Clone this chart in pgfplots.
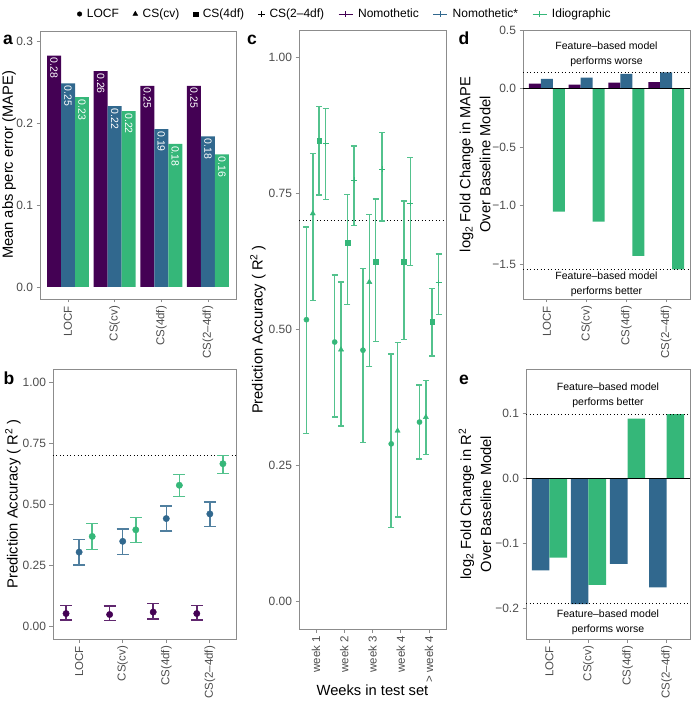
\documentclass[border=0pt]{standalone}
\usepackage{fontspec}
\setmainfont{Liberation Sans}
\usepackage{pgfplots}
\pgfplotsset{compat=1.18}

\definecolor{vpurple}{HTML}{440154}
\definecolor{vblue}{HTML}{31688E}
\definecolor{vgreen}{HTML}{35B779}
\definecolor{frame}{HTML}{8C8C8C}
\definecolor{ticktxt}{HTML}{4D4D4D}

\pgfplotsset{
  panel/.style={
    scale only axis, anchor=south west,
    axis line style={frame, line width=0.9pt},
    tick style={frame, line width=0.8pt},
    tick align=outside, major tick length=3.5pt,
    xtick pos=left, ytick pos=left,
    yticklabel style={font=\fontsize{12}{12}\selectfont, text=ticktxt},
    xticklabel style={font=\fontsize{11.5}{12}\selectfont, text=ticktxt, rotate=90, anchor=east},
    label style={font=\fontsize{14.7}{20}\selectfont},
    ylabel style={anchor=center, align=center},
    xmin=0.4, xmax=4.6, xtick={1,2,3,4},
    xticklabels={LOCF,CS(cv),CS(4df),CS(2--4df)},
  },
  errb/.style 2 args={
    error bars/y dir=both, error bars/y explicit,
    error bars/error bar style={line width=1.5pt, draw=#1!85},
    error bars/error mark options={rotate=90, draw=#1!85, mark size=#2, line width=1.4pt}},
  barlab/.style={nodes near coords, point meta=explicit symbolic,
    every node near coord/.append style={rotate=-90, anchor=west, text=white,
      font=\fontsize{10.5}{10}\selectfont, inner sep=2pt}},
  leg mark/.style={legend image code/.code={\draw[##1] plot coordinates {(0pt,0pt)};}},
  leg bar/.style={legend image code/.code={\draw[##1] (0pt,0pt) -- (14pt,0pt); \draw[##1] (7pt,-3pt) -- (7pt,3pt);}},
  dotline/.style={black, line width=0.8pt, dash pattern=on 1pt off 2.5pt},
}

\begin{document}
\begin{tikzpicture}
\path[use as bounding box] (0,0) rectangle (691pt,702pt);

% legend
\begin{axis}[hide axis, scale only axis, width=10pt, height=10pt,
  at={(345pt,688pt)}, anchor=center, xmin=0, xmax=1, ymin=0, ymax=1,
  legend style={at={(0.5,0.5)}, anchor=center, draw=none, fill=none,
    legend columns=7, font=\fontsize{12}{12}\selectfont,
    /tikz/every odd column/.append style={column sep=3pt},
    /tikz/every even column/.append style={column sep=12pt},
    /tikz/column 8/.append style={column sep=30pt}}]
\addlegendimage{leg mark, only marks, mark=*, black, mark size=2.3pt}
\addlegendentry{LOCF}
\addlegendimage{leg mark, only marks, mark=triangle*, black, mark size=2.8pt}
\addlegendentry{CS(cv)}
\addlegendimage{leg mark, only marks, mark=square*, black, mark size=2.2pt}
\addlegendentry{CS(4df)}
\addlegendimage{leg mark, only marks, mark=+, black, mark size=3.2pt, line width=0.8pt}
\addlegendentry{CS(2--4df)}
\addlegendimage{leg bar, vpurple, line width=0.9pt}
\addlegendentry{Nomothetic}
\addlegendimage{leg bar, vblue, line width=0.9pt}
\addlegendentry{Nomothetic*}
\addlegendimage{leg bar, vgreen, line width=0.9pt}
\addlegendentry{Idiographic}
\end{axis}

% panel a
\begin{axis}[panel, at={(40pt,403pt)}, width=196pt, height=268pt,
  ymin=-0.0147, ymax=0.313, ytick={0,0.1,0.2,0.3}, yticklabels={0.0,0.1,0.2,0.3},
  ylabel={Mean abs perc error (MAPE)},
  ylabel style={at={(axis description cs:-0.158,0.5)}}]
\addplot[ybar, bar width=0.3, bar shift=0, fill=vpurple, draw=none, barlab]
  coordinates {(0.7,0.283)[0.28] (1.7,0.264)[0.26] (2.7,0.246)[0.25] (3.7,0.246)[0.25]};
\addplot[ybar, bar width=0.3, bar shift=0, fill=vblue, draw=none, barlab]
  coordinates {(1,0.249)[0.25] (2,0.221)[0.22] (3,0.193)[0.19] (4,0.184)[0.18]};
\addplot[ybar, bar width=0.3, bar shift=0, fill=vgreen, draw=none, barlab]
  coordinates {(1.3,0.232)[0.23] (2.3,0.215)[0.22] (3.3,0.175)[0.18] (4.3,0.162)[0.16]};
\end{axis}

% panel b
\begin{axis}[panel, at={(53pt,63pt)}, width=183pt, height=270pt,
  ymin=-0.05, ymax=1.053, ytick={0,0.25,0.5,0.75,1},
  yticklabels={0.00,0.25,0.50,0.75,1.00},
  ylabel={Prediction Accuracy ( R\textsuperscript{2} )},
  ylabel style={at={(axis description cs:-0.219,0.5)}}]
\addplot[dotline] coordinates {(0.4,0.7) (4.6,0.7)};
\addplot[vpurple, only marks, mark=*, mark size=3.2pt, errb={vpurple}{6pt}]
  coordinates {(0.7,0.054) += (0,0.034) -= (0,0.027)
               (1.7,0.050) += (0,0.034) -= (0,0.024)
               (2.7,0.060) += (0,0.034) -= (0,0.029)
               (3.7,0.054) += (0,0.034) -= (0,0.026)};
\addplot[vblue, only marks, mark=*, mark size=3.2pt, errb={vblue}{6pt}]
  coordinates {(1,0.305) += (0,0.051) -= (0,0.053)
               (2,0.349) += (0,0.051) -= (0,0.055)
               (3,0.442) += (0,0.051) -= (0,0.051)
               (4,0.461) += (0,0.048) -= (0,0.051)};
\addplot[vgreen, only marks, mark=*, mark size=3.2pt, errb={vgreen}{6pt}]
  coordinates {(1.3,0.369) += (0,0.053) -= (0,0.053)
               (2.3,0.396) += (0,0.050) -= (0,0.053)
               (3.3,0.578) += (0,0.043) -= (0,0.045)
               (4.3,0.666) += (0,0.034) -= (0,0.039)};
\end{axis}

% panel c
\begin{axis}[panel, at={(299pt,73pt)}, width=147pt, height=599pt,
  xmin=0.4, xmax=5.6, xtick={1,2,3,4,5},
  xticklabels={week 1,week 2,week 3,week 4,> week 4},
  ymin=-0.05, ymax=1.05, ytick={0,0.25,0.5,0.75,1},
  yticklabels={0.00,0.25,0.50,0.75,1.00},
  ylabel={Prediction Accuracy ( R\textsuperscript{2} )},
  ylabel style={at={(axis description cs:-0.279,0.5)}},
  xlabel={Weeks in test set},
  xlabel style={at={(axis description cs:0.5,-0.102)}, anchor=center}]
\addplot[dotline] coordinates {(0.4,0.7) (5.6,0.7)};
% LOCF
\addplot[vgreen, only marks, mark=*, mark size=2.6pt, errb={vgreen}{3pt}]
  coordinates {(0.6625,0.518) += (0,0.170) -= (0,0.209)
               (1.6625,0.477) += (0,0.123) -= (0,0.138)
               (2.6625,0.462) += (0,0.150) -= (0,0.169)
               (3.6625,0.290) += (0,0.165) -= (0,0.154)
               (4.6625,0.330) += (0,0.068) -= (0,0.068)};
% CS(cv)
\addplot[vgreen, only marks, mark=triangle*, mark size=3pt, errb={vgreen}{3pt}]
  coordinates {(0.8875,0.713) += (0,0.110) -= (0,0.160)
               (1.8875,0.463) += (0,0.124) -= (0,0.140)
               (2.8875,0.587) += (0,0.124) -= (0,0.155)
               (3.8875,0.314) += (0,0.162) -= (0,0.158)
               (4.8875,0.339) += (0,0.067) -= (0,0.069)};
% CS(4df)
\addplot[vgreen, only marks, mark=square*, mark size=2.3pt, errb={vgreen}{3pt}]
  coordinates {(1.1125,0.847) += (0,0.062) -= (0,0.100)
               (2.1125,0.659) += (0,0.089) -= (0,0.113)
               (3.1125,0.625) += (0,0.115) -= (0,0.147)
               (4.1125,0.624) += (0,0.112) -= (0,0.142)
               (5.1125,0.514) += (0,0.061) -= (0,0.063)};
% CS(2-4df)
\addplot[vgreen, only marks, mark=+, mark size=3pt, errb={vgreen}{3pt}]
  coordinates {(1.3375,0.842) += (0,0.064) -= (0,0.103)
               (2.3375,0.774) += (0,0.063) -= (0,0.083)
               (3.3375,0.794) += (0,0.068) -= (0,0.095)
               (4.3375,0.732) += (0,0.084) -= (0,0.114)
               (5.3375,0.586) += (0,0.053) -= (0,0.058)};
\end{axis}

% panel d
\begin{axis}[panel, at={(523pt,403pt)}, width=167pt, height=269pt,
  ymin=-1.796, ymax=0.5, ytick={-1.5,-1,-0.5,0,0.5},
  yticklabels={−1.5,−1.0,−0.5,0.0,0.5},
  ylabel={log\textsubscript{2} Fold Change in MAPE\\Over Baseline Model},
  ylabel style={at={(axis description cs:-0.287,0.5)}}]
\addplot[ybar, bar width=0.3, bar shift=-0.3, fill=vpurple, draw=none]
  coordinates {(1,0.043) (2,0.034) (3,0.051) (4,0.054)};
\addplot[ybar, bar width=0.3, bar shift=0, fill=vblue, draw=none]
  coordinates {(1,0.082) (2,0.094) (3,0.125) (4,0.139)};
\addplot[ybar, bar width=0.3, bar shift=0.3, fill=vgreen, draw=none]
  coordinates {(1,-1.051) (2,-1.136) (3,-1.429) (4,-1.543)};
\addplot[black, line width=0.8pt] coordinates {(0.4,0) (4.6,0)};
\addplot[dotline] coordinates {(0.4,0.139) (4.6,0.139)};
\addplot[dotline] coordinates {(0.4,-1.543) (4.6,-1.543)};
\node[align=center, font=\fontsize{10.5}{15.6}\selectfont] at (axis cs:2.5,0.293)
  {Feature--based model\\performs worse};
\node[align=center, font=\fontsize{10.5}{15.6}\selectfont] at (axis cs:2.5,-1.67)
  {Feature--based model\\performs better};
\end{axis}

% panel e
\begin{axis}[panel, at={(526pt,63pt)}, width=164pt, height=270pt,
  ymin=-0.2476, ymax=0.1685, ytick={-0.2,-0.1,0,0.1},
  yticklabels={−0.2,−0.1,0.0,0.1},
  ylabel={log\textsubscript{2} Fold Change in R\textsuperscript{2}\\Over Baseline Model},
  ylabel style={at={(axis description cs:-0.311,0.5)}}]
\addplot[ybar, bar width=0.45, bar shift=-0.225, fill=vblue, draw=none]
  coordinates {(1,-0.142) (2,-0.194) (3,-0.132) (4,-0.168)};
\addplot[ybar, bar width=0.45, bar shift=0.225, fill=vgreen, draw=none]
  coordinates {(1,-0.122) (2,-0.164) (3,0.092) (4,0.099)};
\addplot[black, line width=0.8pt] coordinates {(0.4,0) (4.6,0)};
\addplot[dotline] coordinates {(0.4,0.0993) (4.6,0.0993)};
\addplot[dotline] coordinates {(0.4,-0.1935) (4.6,-0.1935)};
\node[align=center, font=\fontsize{10.5}{15}\selectfont] at (axis cs:2.5,0.1285)
  {Feature--based model\\performs better};
\node[align=center, font=\fontsize{10.5}{15}\selectfont] at (axis cs:2.5,-0.222)
  {Feature--based model\\performs worse};
\end{axis}

% panel letters
\begin{scope}[every node/.style={anchor=base, font=\bfseries\fontsize{17.5}{18}\selectfont}]
\node at (8pt,657pt) {a};
\node at (9pt,317pt) {b};
\node at (252pt,657pt) {c};
\node at (464pt,657pt) {d};
\node at (464pt,317pt) {e};
\end{scope}
\end{tikzpicture}
\end{document}
